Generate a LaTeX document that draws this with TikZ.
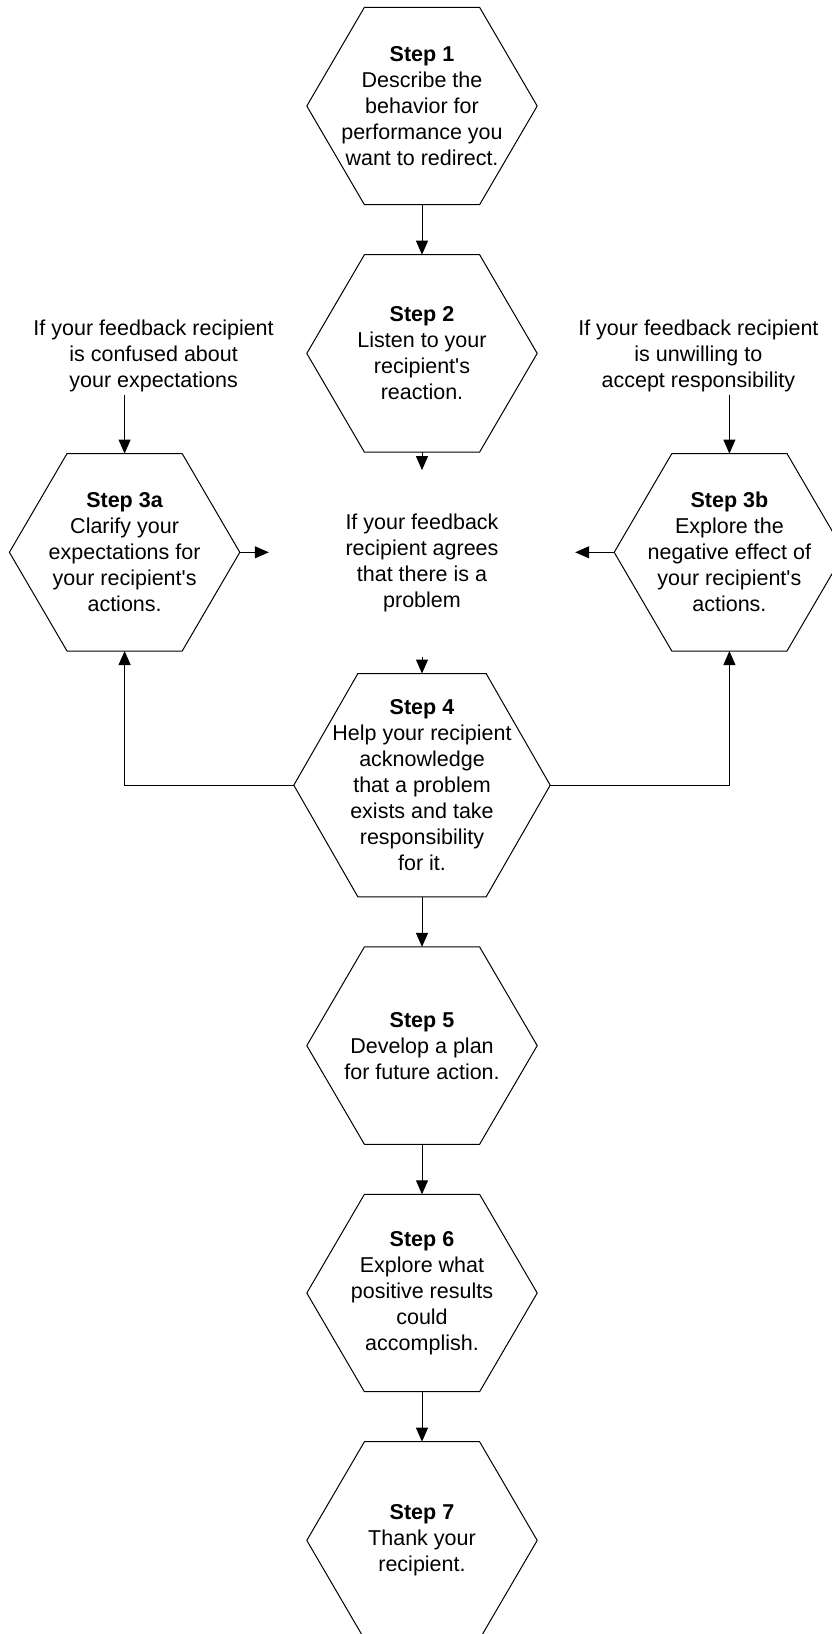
\documentclass[tikz,border=0pt]{standalone}
\usepackage{fontspec}
\setmainfont{Liberation Sans}
\usetikzlibrary{arrows.meta,positioning,calc}

\begin{document}
\begin{tikzpicture}[
      node distance=50pt,
      every node/.style={font=\fontsize{21.5}{26}\selectfont},
      hexa/.style={align=center,inner sep=0pt,minimum width=230pt,minimum height=197pt},
      txt/.style={align=center,inner sep=2pt},
      hexline/.style={draw=black,line width=1pt,line join=round},
      arrow/.style={-{Triangle[length=14pt,width=12pt]},line width=1pt}
    ]
      \useasboundingbox (0pt,0pt) rectangle (832pt,-1634pt);
      \node[hexa] (s1) at (422pt,-106pt) {\textbf{Step 1}\\Describe the\\behavior for\\performance you\\want to redirect.};
      \node[hexa,below=of s1] (s2) {\textbf{Step 2}\\Listen to your\\recipient\textquotesingle s\\reaction.};
      \node[txt,minimum width=306pt,minimum height=186pt,below=18pt of s2] (agree) {If your feedback\\recipient agrees\\that there is a\\problem};
      \node[hexa,left=29pt of agree,yshift=11pt] (s3a) {\textbf{Step 3a}\\Clarify your\\expectations for\\your recipient\textquotesingle s\\actions.};
      \node[hexa,right=39pt of agree,yshift=11pt] (s3b) {\textbf{Step 3b}\\Explore the\\negative effect of\\your recipient\textquotesingle s\\actions.};
      \node[txt,above=59pt of s3a,xshift=29pt] (confused) {If your feedback recipient\\is confused about\\your expectations};
      \node[txt,above=59pt of s3b,xshift=-31pt] (unwilling) {If your feedback recipient\\is unwilling to\\accept responsibility};
      \node[hexa,minimum width=256pt,minimum height=223pt,below=17pt of agree] (s4) {\textbf{Step 4}\\Help your recipient\\acknowledge\\that a problem\\exists and take\\responsibility\\for it.};
      \node[hexa,below=of s4] (s5) {\textbf{Step 5}\\Develop a plan\\for future action.};
      \node[hexa,below=of s5] (s6) {\textbf{Step 6}\\Explore what\\positive results\\could\\accomplish.};
      \node[hexa,below=of s6] (s7) {\textbf{Step 7}\\Thank your\\recipient.};
      % hexagon outlines
      \foreach \n in {s1,s2,s3a,s3b,s4,s5,s6,s7}
        \draw[hexline] (\n.west) -- ($(\n.north west)!.25!(\n.north east)$) -- ($(\n.north west)!.75!(\n.north east)$) -- (\n.east)
          -- ($(\n.south west)!.75!(\n.south east)$) -- ($(\n.south west)!.25!(\n.south east)$) -- cycle;
      \draw[arrow] (s1) -- (s2);
      \draw[arrow] (s2) -- (agree);
      \draw[arrow] (agree) -- (s4);
      \draw[arrow] (confused.south -| s3a.north) -- (s3a.north);
      \draw[arrow] (unwilling.south -| s3b.north) -- (s3b.north);
      \draw[arrow] (s3a.east) -- (s3a.east -| agree.west);
      \draw[arrow] (s3b.west) -- (s3b.west -| agree.east);
      \draw[arrow] (s4.west) -| (s3a.south);
      \draw[arrow] (s4.east) -| (s3b.south);
      \draw[arrow] (s4) -- (s5);
      \draw[arrow] (s5) -- (s6);
      \draw[arrow] (s6) -- (s7);
    \end{tikzpicture}
\end{document}
